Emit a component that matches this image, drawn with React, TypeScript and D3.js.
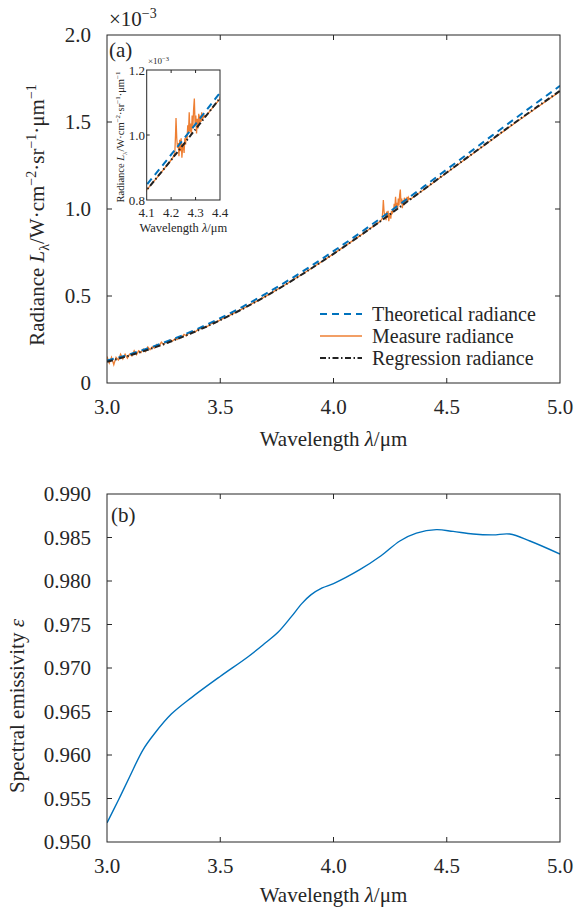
import React from 'react';
import * as d3 from 'd3';

const wavelengths = [3.0, 3.1, 3.2, 3.3, 3.4, 3.5, 3.6, 3.7, 3.8, 3.9, 4.0, 4.1, 4.2, 4.3, 4.4, 4.5, 4.6, 4.7, 4.8, 4.9, 5.0];
const theoretical = [0.1285, 0.165, 0.2077, 0.2565, 0.3115, 0.3728, 0.4395, 0.5119, 0.5894, 0.6714, 0.7577, 0.847, 0.9393, 1.0338, 1.1298, 1.2272, 1.3243, 1.4216, 1.5181, 1.6133, 1.7078];
const regression = [0.1224, 0.158, 0.1999, 0.2475, 0.3013, 0.3612, 0.4267, 0.498, 0.5749, 0.6568, 0.7423, 0.831, 0.9231, 1.018, 1.1136, 1.2098, 1.305, 1.4007, 1.4958, 1.588, 1.6789];

const measuredWl = [
  3.0, 3.01, 3.02, 3.03, 3.04, 3.05, 3.06, 3.07, 3.08, 3.09,
  3.1, 3.11, 3.12, 3.13, 3.14, 3.15, 3.16, 3.17, 3.18, 3.19,
  3.2, 3.21, 3.22, 3.23, 3.24, 3.25, 3.26, 3.27, 3.28, 3.29,
  3.3, 3.31, 3.32, 3.33, 3.34, 3.35, 3.36, 3.37, 3.38, 3.39,
  3.4, 3.42, 3.44, 3.46, 3.48, 3.5, 3.55, 3.6, 3.7, 3.8, 3.9, 4.0, 4.1, 4.15, 4.2,
  4.205, 4.21, 4.215, 4.218, 4.22, 4.223, 4.226, 4.229, 4.232, 4.235, 4.238, 4.241, 4.244, 4.247,
  4.25, 4.253, 4.256, 4.259, 4.262, 4.265, 4.268, 4.271, 4.274, 4.277, 4.28, 4.283, 4.286, 4.289,
  4.292, 4.295, 4.298, 4.301, 4.304, 4.307, 4.31, 4.313, 4.316, 4.319, 4.322, 4.325, 4.328, 4.331,
  4.334, 4.338, 4.342, 4.35, 4.4, 4.5, 4.6, 4.7, 4.8, 4.9, 5.0,
];
const measuredVal = [
  0.152, 0.114, 0.148, 0.105, 0.147, 0.132, 0.166, 0.138, 0.166, 0.143,
  0.166, 0.156, 0.186, 0.163, 0.185, 0.175, 0.195, 0.181, 0.207, 0.191,
  0.208, 0.201, 0.222, 0.212, 0.235, 0.22, 0.237, 0.23, 0.248, 0.241,
  0.254, 0.25, 0.265, 0.262, 0.279, 0.271, 0.286, 0.283, 0.296, 0.294,
  0.305, 0.316, 0.322, 0.341, 0.347, 0.363, 0.394, 0.427, 0.498, 0.575, 0.657, 0.742, 0.831, 0.876, 0.923,
  0.928, 0.935, 0.945, 1.0, 1.052, 0.99, 0.96, 0.975, 0.935, 0.985, 0.95, 0.99, 0.93, 0.96,
  0.975, 0.945, 0.99, 0.97, 1.0, 0.985, 1.03, 1.005, 1.07, 1.01, 1.035, 1.0, 1.06, 1.02,
  1.08, 1.112, 1.03, 1.06, 1.005, 1.05, 1.02, 1.065, 1.035, 1.06, 1.04, 1.07, 1.045, 1.065,
  1.055, 1.06, 1.058, 1.066, 1.112, 1.208, 1.303, 1.398, 1.493, 1.585, 1.676,
];

const emisWl = [3.0, 3.05, 3.1, 3.159, 3.211, 3.284, 3.373, 3.498, 3.623, 3.7, 3.755, 3.814, 3.86, 3.9, 3.95, 4.0, 4.116, 4.21, 4.293, 4.366, 4.454, 4.528, 4.616, 4.704, 4.778, 4.867, 5.0];
const emisVal = [0.9522, 0.9548, 0.9575, 0.9606, 0.9625, 0.9647, 0.9666, 0.969, 0.9713, 0.9729, 0.9741, 0.9759, 0.9774, 0.9784, 0.9792, 0.9797, 0.9813, 0.9829, 0.9846, 0.9855, 0.9859, 0.9857, 0.9854, 0.9853, 0.9854, 0.9846, 0.9831];

const xTicks = [3.0, 3.5, 4.0, 4.5, 5.0];
const yTicksA = [0, 0.5, 1.0, 1.5, 2.0];
const yTicksALabels = ['0', '0.5', '1.0', '1.5', '2.0'];
const yTicksB = [0.95, 0.955, 0.96, 0.965, 0.97, 0.975, 0.98, 0.985, 0.99];
const insetXTicks = [4.1, 4.2, 4.3, 4.4];
const insetYTicks = [0.8, 1.0, 1.2];
const legendLabels = ['Theoretical radiance', 'Measure radiance', 'Regression radiance'];

const FONT = '"Liberation Serif", "Times New Roman", serif';
const AXC = '#262626';
const BLUE = '#0072BD';
const ORANGE = '#EE7F33';
const BLACK = '#222222';
const BLUE_DASH = '7,5';
const BLACK_DASH = '6,2.5,1.5,2.5';

const L = 107, R = 560;
const A_TOP = 35, A_BOT = 383;
const B_TOP = 494, B_BOT = 842;
const TICK = 5;

const xA = d3.scaleLinear().domain([3, 5]).range([L, R]);
const yA = d3.scaleLinear().domain([0, 2]).range([A_BOT, A_TOP]);
const yB = d3.scaleLinear().domain([0.95, 0.99]).range([B_BOT, B_TOP]);

const IN_L = 146.7, IN_R = 220, IN_T = 70, IN_B = 200;
const xI = d3.scaleLinear().domain([4.1, 4.4]).range([IN_L, IN_R]);
const yI = d3.scaleLinear().domain([0.8, 1.2]).range([IN_B, IN_T]);

function mkLine(xs: number[], ys: number[], sx: any, sy: any, curve: any = d3.curveMonotoneX) {
  const pts = xs.map((x, i) => [x, ys[i]] as [number, number]);
  return d3.line<[number, number]>().x(d => sx(d[0])).y(d => sy(d[1])).curve(curve)(pts) || '';
}

function Frame({ top, bot, yTicks, ys }: any) {
  return (
    <g>
      <rect x={L} y={top} width={R - L} height={bot - top} fill="none" stroke={AXC} strokeWidth={1} />
      {xTicks.slice(1, -1).map((t, i) => (
        <g key={'x' + i}>
          <line x1={xA(t)} x2={xA(t)} y1={bot} y2={bot - TICK} stroke={AXC} />
          <line x1={xA(t)} x2={xA(t)} y1={top} y2={top + TICK} stroke={AXC} />
        </g>
      ))}
      {yTicks.slice(1, -1).map((t: number, i: number) => (
        <g key={'y' + i}>
          <line x1={L} x2={L + TICK} y1={ys(t)} y2={ys(t)} stroke={AXC} />
          <line x1={R} x2={R - TICK} y1={ys(t)} y2={ys(t)} stroke={AXC} />
        </g>
      ))}
    </g>
  );
}

export default function App() {
  const blueA = mkLine(wavelengths, theoretical, xA, yA);
  const blackA = mkLine(wavelengths, regression, xA, yA);
  const orangeA = mkLine(measuredWl, measuredVal, xA, yA, d3.curveLinear);
  const blueI = mkLine(wavelengths, theoretical, xI, yI);
  const blackI = mkLine(wavelengths, regression, xI, yI);
  const orangeI = mkLine(measuredWl, measuredVal, xI, yI, d3.curveLinear);
  const emis = mkLine(emisWl, emisVal, xA, yB, d3.curveCatmullRom.alpha(0.5));

  const legY = [314, 336, 358];

  return (
    <svg width={577} height={909} style={{ position: 'absolute', left: 0, top: 0, background: '#fff' }} fontFamily={FONT} fill="#262626">
      <defs>
        <clipPath id="clipA"><rect x={L} y={A_TOP} width={R - L} height={A_BOT - A_TOP} /></clipPath>
        <clipPath id="clipI"><rect x={IN_L} y={IN_T} width={IN_R - IN_L} height={IN_B - IN_T} /></clipPath>
        <clipPath id="clipB"><rect x={L} y={B_TOP} width={R - L} height={B_BOT - B_TOP} /></clipPath>
      </defs>
      <rect x={0} y={0} width={577} height={909} fill="#fff" />

      {/* ===== Panel (a) ===== */}
      <g clipPath="url(#clipA)" fill="none">
        <path d={orangeA} stroke={ORANGE} strokeWidth={1.3} />
        <path d={blueA} stroke={BLUE} strokeWidth={2} strokeDasharray={BLUE_DASH} />
        <path d={blackA} stroke={BLACK} strokeWidth={2} strokeDasharray={BLACK_DASH} />
      </g>
      <Frame top={A_TOP} bot={A_BOT} yTicks={yTicksA} ys={yA} />
      {xTicks.map((t, i) => (
        <text key={'xa' + i} x={xA(t)} y={A_BOT + 31} textAnchor="middle" fontSize={21}>{t.toFixed(1)}</text>
      ))}
      {yTicksA.map((t, i) => (
        <text key={'ya' + i} x={91} y={yA(t)} dy="0.35em" textAnchor="end" fontSize={21}>{yTicksALabels[i]}</text>
      ))}
      <text x={109} y={26} fontSize={21}>×10<tspan fontSize={14} dy={-8}>−3</tspan></text>
      <text x={109} y={57} fontSize={21}>(a)</text>
      <text x={(L + R) / 2} y={A_BOT + 63} textAnchor="middle" fontSize={21}>
        Wavelength <tspan fontStyle="italic">λ</tspan>/μm
      </text>
      <text transform={`translate(44,${(A_TOP + A_BOT) / 2 + 6}) rotate(-90)`} textAnchor="middle" fontSize={21}>
        Radiance <tspan fontStyle="italic">L</tspan><tspan fontSize={14} dy={5}>λ</tspan><tspan dy={-5}>/W·cm</tspan><tspan fontSize={14} dy={-8}>−2</tspan><tspan dy={8}>·sr</tspan><tspan fontSize={14} dy={-8}>−1</tspan><tspan dy={8}>·μm</tspan><tspan fontSize={14} dy={-8}>−1</tspan>
      </text>

      {/* legend */}
      {legendLabels.map((lab, i) => (
        <g key={'lg' + i}>
          <line x1={320} x2={362} y1={legY[i]} y2={legY[i]}
            stroke={i === 0 ? BLUE : i === 1 ? ORANGE : BLACK}
            strokeWidth={i === 1 ? 1.3 : 2}
            strokeDasharray={i === 0 ? BLUE_DASH : i === 2 ? BLACK_DASH : undefined} />
          <text x={372} y={legY[i] + 6.5} fontSize={20}>{lab}</text>
        </g>
      ))}

      {/* inset */}
      <rect x={IN_L} y={IN_T} width={IN_R - IN_L} height={IN_B - IN_T} fill="#fff" />
      <g clipPath="url(#clipI)" fill="none">
        <path d={orangeI} stroke={ORANGE} strokeWidth={1.3} />
        <path d={blueI} stroke={BLUE} strokeWidth={2} strokeDasharray={BLUE_DASH} />
        <path d={blackI} stroke={BLACK} strokeWidth={2} strokeDasharray={BLACK_DASH} />
      </g>
      <rect x={IN_L} y={IN_T} width={IN_R - IN_L} height={IN_B - IN_T} fill="none" stroke={AXC} strokeWidth={1} />
      {insetXTicks.slice(1, -1).map((t, i) => (
        <g key={'ixt' + i}>
          <line x1={xI(t)} x2={xI(t)} y1={IN_B} y2={IN_B - 3} stroke={AXC} />
          <line x1={xI(t)} x2={xI(t)} y1={IN_T} y2={IN_T + 3} stroke={AXC} />
        </g>
      ))}
      {insetYTicks.slice(1, -1).map((t, i) => (
        <g key={'iyt' + i}>
          <line x1={IN_L} x2={IN_L + 3} y1={yI(t)} y2={yI(t)} stroke={AXC} />
          <line x1={IN_R} x2={IN_R - 3} y1={yI(t)} y2={yI(t)} stroke={AXC} />
        </g>
      ))}
      {insetXTicks.map((t, i) => (
        <text key={'ixl' + i} x={xI(t)} y={217} textAnchor="middle" fontSize={13}>{t.toFixed(1)}</text>
      ))}
      {insetYTicks.map((t, i) => (
        <text key={'iyl' + i} x={145} y={yI(t)} dy="0.35em" textAnchor="end" fontSize={13}>{t.toFixed(1)}</text>
      ))}
      <text x={148} y={64} fontSize={9}>×10<tspan fontSize={6.5} dy={-3.5}>−3</tspan></text>
      <text x={(IN_L + IN_R) / 2} y={232} textAnchor="middle" fontSize={12.5}>
        Wavelength <tspan fontStyle="italic">λ</tspan>/μm
      </text>
      <text transform={`translate(124,${(IN_T + IN_B) / 2 + 2}) rotate(-90)`} textAnchor="middle" fontSize={10.5}>
        Radiance <tspan fontStyle="italic">L</tspan><tspan fontSize={7} dy={2.5}>λ</tspan><tspan dy={-2.5}>/W·cm</tspan><tspan fontSize={7} dy={-4}>−2</tspan><tspan dy={4}>·sr</tspan><tspan fontSize={7} dy={-4}>−1</tspan><tspan dy={4}>·μm</tspan><tspan fontSize={7} dy={-4}>−1</tspan>
      </text>

      {/* ===== Panel (b) ===== */}
      <g clipPath="url(#clipB)" fill="none">
        <path d={emis} stroke={BLUE} strokeWidth={1.4} />
      </g>
      <Frame top={B_TOP} bot={B_BOT} yTicks={yTicksB} ys={yB} />
      {xTicks.map((t, i) => (
        <text key={'xb' + i} x={xA(t)} y={B_BOT + 31} textAnchor="middle" fontSize={21}>{t.toFixed(1)}</text>
      ))}
      {yTicksB.map((t, i) => (
        <text key={'yb' + i} x={91} y={yB(t)} dy="0.35em" textAnchor="end" fontSize={21}>{t.toFixed(3)}</text>
      ))}
      <text x={111} y={522} fontSize={21}>(b)</text>
      <text x={(L + R) / 2} y={B_BOT + 60} textAnchor="middle" fontSize={21}>
        Wavelength <tspan fontStyle="italic">λ</tspan>/μm
      </text>
      <text transform={`translate(24,${706}) rotate(-90)`} textAnchor="middle" fontSize={21}>
        Spectral emissivity <tspan fontStyle="italic">ε</tspan>
      </text>
    </svg>
  );
}
